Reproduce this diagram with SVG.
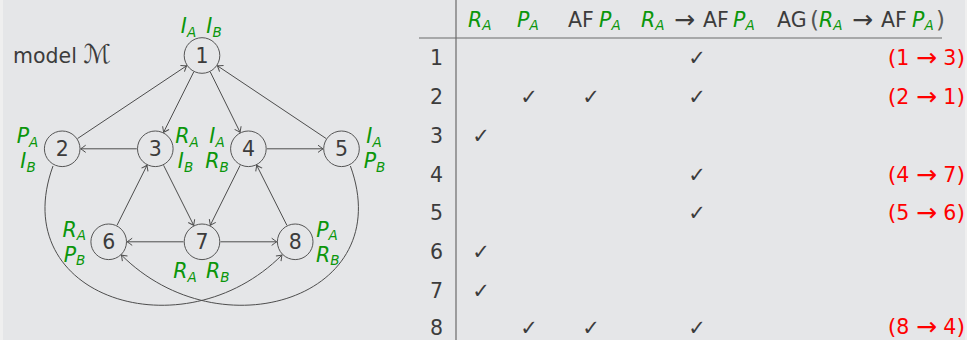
<svg xmlns="http://www.w3.org/2000/svg" width="967" height="340" viewBox="0 0 967 340">
  <style>
    text { font-family: "DejaVu Sans", "Liberation Sans", sans-serif; }
    .num { font-size: 20.5px; fill: #3c3c3c; text-anchor: middle; }
    .node circle { fill: none; stroke: #555555; stroke-width: 1; }
    .lbl { font-size: 20.5px; font-style: italic; fill: #0b960b; text-anchor: middle; }
    .sub { font-size: 13.5px; }
    .edge { fill: none; stroke: #4d4d4d; stroke-width: 1; marker-end: url(#to); }
    .txt { font-size: 20.5px; fill: #3c3c3c; }
    .hm { font-size: 20.5px; font-style: italic; fill: #0b960b; }
    .rown { font-size: 20.5px; fill: #3c3c3c; text-anchor: end; }
    .chk { font-size: 21px; fill: #3c3c3c; text-anchor: middle; }
    .red { font-size: 20.5px; fill: #ff0000; text-anchor: end; }
    .arr { font-size: 25px; }
    .par { font-size: 22px; }
    .rule { stroke: #6a6a6a; stroke-width: 1.2; }
  </style>
  <defs>
    <marker id="to" markerUnits="userSpaceOnUse" markerWidth="12" markerHeight="12" refX="0" refY="0" viewBox="-7 -6 8 12" orient="auto">
      <path d="M -5 -3.6 Q -1.5 -1 0 0 Q -1.5 1 -5 3.6" fill="none" stroke="#4d4d4d" stroke-width="1"/>
    </marker>
  </defs>

  <!-- page -->
  <rect x="0" y="0" width="967" height="340" fill="#efefef"/>
  <rect x="3" y="0" width="962" height="340" fill="#e5e6e8"/>

  <!-- title -->
  <text class="txt" x="13" y="63">model <tspan style="font-size:26px;font-style:italic">ℳ</tspan></text>

  <!-- connectors -->
  <g id="edges">
    <path class="edge" d="M 77.6 138.5 L 186.6 65.8"/>
    <path class="edge" d="M 193.7 72.0 L 163.6 132.3"/>
    <path class="edge" d="M 210.3 72.0 L 240.1 132.3"/>
    <path class="edge" d="M 326.1 138.5 L 217.4 65.8"/>
    <path class="edge" d="M 136.8 148.8 L 80.7 148.8"/>
    <path class="edge" d="M 266.9 148.8 L 323.0 148.8"/>
    <path class="edge" d="M 117.0 225.3 L 147.0 165.3"/>
    <path class="edge" d="M 163.6 165.3 L 193.7 225.3"/>
    <path class="edge" d="M 240.1 165.4 L 210.3 225.2"/>
    <path class="edge" d="M 286.9 225.3 L 256.7 165.3"/>
    <path class="edge" d="M 183.5 241.8 L 127.2 241.8"/>
    <path class="edge" d="M 220.5 241.8 L 276.7 241.8"/>
    <path class="edge" d="M 53 166 C 5.1 297.6 183 354 282 255"/>
    <path class="edge" d="M 350.4 166 C 398.3 297.6 220.4 354 121.4 255"/>
  </g>

  <!-- states -->
  <g id="n1" class="node">
    <circle cx="202" cy="55.5" r="17.8"/>
    <text class="num" x="202" y="63">1</text>
    <text class="lbl" x="188.5" y="33">I<tspan class="sub" dy="3.5">A</tspan></text>
    <text class="lbl" x="214" y="33">I<tspan class="sub" dy="3.5">B</tspan></text>
  </g>
  <g id="n2" class="node">
    <circle cx="62.2" cy="148.8" r="17.8"/>
    <text class="num" x="62.2" y="156.3">2</text>
    <text class="lbl" x="27.5" y="143.3">P<tspan class="sub" dy="3.5">A</tspan></text>
    <text class="lbl" x="28" y="168.3">I<tspan class="sub" dy="3.5">B</tspan></text>
  </g>
  <g id="n3" class="node">
    <circle cx="155.3" cy="148.8" r="17.8"/>
    <text class="num" x="155.3" y="156.3">3</text>
    <text class="lbl" x="187" y="143.3">R<tspan class="sub" dy="3.5">A</tspan></text>
    <text class="lbl" x="185.5" y="168.3">I<tspan class="sub" dy="3.5">B</tspan></text>
  </g>
  <g id="n4" class="node">
    <circle cx="248.4" cy="148.8" r="17.8"/>
    <text class="num" x="248.4" y="156.3">4</text>
    <text class="lbl" x="217" y="143.3">I<tspan class="sub" dy="3.5">A</tspan></text>
    <text class="lbl" x="217" y="168.3">R<tspan class="sub" dy="3.5">B</tspan></text>
  </g>
  <g id="n5" class="node">
    <circle cx="341.5" cy="148.8" r="17.8"/>
    <text class="num" x="341.5" y="156.3">5</text>
    <text class="lbl" x="374" y="143.3">I<tspan class="sub" dy="3.5">A</tspan></text>
    <text class="lbl" x="374.5" y="168.3">P<tspan class="sub" dy="3.5">B</tspan></text>
  </g>
  <g id="n6" class="node">
    <circle cx="108.7" cy="241.8" r="17.8"/>
    <text class="num" x="108.7" y="249.3">6</text>
    <text class="lbl" x="74.3" y="236.5">R<tspan class="sub" dy="3.5">A</tspan></text>
    <text class="lbl" x="74.5" y="261.5">P<tspan class="sub" dy="3.5">B</tspan></text>
  </g>
  <g id="n7" class="node">
    <circle cx="202" cy="241.8" r="17.8"/>
    <text class="num" x="202" y="249.3">7</text>
    <text class="lbl" x="185" y="278">R<tspan class="sub" dy="3.5">A</tspan></text>
    <text class="lbl" x="217.7" y="278">R<tspan class="sub" dy="3.5">B</tspan></text>
  </g>
  <g id="n8" class="node">
    <circle cx="295.2" cy="241.8" r="17.8"/>
    <text class="num" x="295.2" y="249.3">8</text>
    <text class="lbl" x="327" y="236.5">P<tspan class="sub" dy="3.5">A</tspan></text>
    <text class="lbl" x="327.7" y="261.5">R<tspan class="sub" dy="3.5">B</tspan></text>
  </g>

  <!-- table -->
  <g id="table">
    <line class="rule" x1="456" y1="0" x2="456" y2="340"/>
    <line class="rule" x1="419" y1="38" x2="942" y2="38"/>

    <!-- header -->
    <text class="hm" x="468" y="26.5">R<tspan class="sub" dy="3.5">A</tspan></text>
    <text class="hm" x="517" y="26.5">P<tspan class="sub" dy="3.5">A</tspan></text>
    <text class="txt" x="568" y="26.5">AF</text>
    <text class="hm" x="599" y="26.5">P<tspan class="sub" dy="3.5">A</tspan></text>
    <text class="hm" x="641" y="26.5">R<tspan class="sub" dy="3.5">A</tspan></text>
    <text class="txt arr" x="674" y="27.5">→</text>
    <text class="txt" x="703" y="26.5">AF</text>
    <text class="hm" x="733" y="26.5">P<tspan class="sub" dy="3.5">A</tspan></text>
    <text class="txt" x="777" y="26.5">AG</text>
    <text class="txt" x="810" y="28" style="font-size:23px;fill:#555">(</text>
    <text class="hm" x="819" y="26.5">R<tspan class="sub" dy="3.5">A</tspan></text>
    <text class="txt arr" x="852" y="27.5">→</text>
    <text class="txt" x="881" y="26.5">AF</text>
    <text class="hm" x="912" y="26.5">P<tspan class="sub" dy="3.5">A</tspan></text>
    <text class="txt" x="936" y="28" style="font-size:23px;fill:#555">)</text>

    <!-- state column -->
    <text class="rown" x="443" y="65">1</text>
    <text class="rown" x="443" y="104">2</text>
    <text class="rown" x="443" y="143">3</text>
    <text class="rown" x="443" y="181.5">4</text>
    <text class="rown" x="443" y="220">5</text>
    <text class="rown" x="443" y="259">6</text>
    <text class="rown" x="443" y="297.5">7</text>
    <text class="rown" x="443" y="335">8</text>

    <!-- R_A -->
    <text class="chk" x="481" y="143">✓</text>
    <text class="chk" x="481" y="259">✓</text>
    <text class="chk" x="481" y="297.5">✓</text>
    <!-- P_A -->
    <text class="chk" x="529" y="104">✓</text>
    <text class="chk" x="529" y="335">✓</text>
    <!-- AF P_A -->
    <text class="chk" x="591" y="104">✓</text>
    <text class="chk" x="591" y="335">✓</text>
    <!-- R_A -> AF P_A -->
    <text class="chk" x="697" y="65">✓</text>
    <text class="chk" x="697" y="104">✓</text>
    <text class="chk" x="697" y="181.5">✓</text>
    <text class="chk" x="697" y="220">✓</text>
    <text class="chk" x="697" y="335">✓</text>

    <!-- counterexample steps -->
    <text class="red" x="965" y="65"><tspan class="par">(</tspan>1 <tspan class="arr" dy="1">→</tspan><tspan dy="-1"> 3</tspan><tspan class="par">)</tspan></text>
    <text class="red" x="965" y="104"><tspan class="par">(</tspan>2 <tspan class="arr" dy="1">→</tspan><tspan dy="-1"> 1</tspan><tspan class="par">)</tspan></text>
    <text class="red" x="965" y="181.5"><tspan class="par">(</tspan>4 <tspan class="arr" dy="1">→</tspan><tspan dy="-1"> 7</tspan><tspan class="par">)</tspan></text>
    <text class="red" x="965" y="220"><tspan class="par">(</tspan>5 <tspan class="arr" dy="1">→</tspan><tspan dy="-1"> 6</tspan><tspan class="par">)</tspan></text>
    <text class="red" x="965" y="334"><tspan class="par">(</tspan>8 <tspan class="arr" dy="1">→</tspan><tspan dy="-1"> 4</tspan><tspan class="par">)</tspan></text>
  </g>
</svg>
